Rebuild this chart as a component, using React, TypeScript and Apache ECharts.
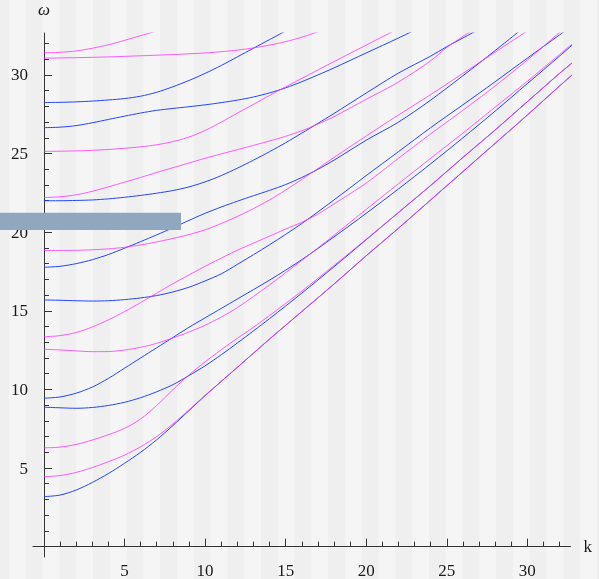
import React, { useEffect, useRef } from "react";
import * as echarts from "echarts";

type Pt = [number, number];

// axis extents (k horizontal, omega vertical)
const kMin = -0.68;
const kMax = 32.68;
const wMin = -0.66;
const wMax = 32.67;

const majorTicks = [5, 10, 15, 20, 25, 30];
const minorTicks = [1, 2, 3, 4, 6, 7, 8, 9, 11, 12, 13, 14, 16, 17, 18, 19, 21, 22, 23, 24, 26, 27, 28, 29, 31, 32];

// blue branches
const blue1: Pt[] = [[0, 3.18], [1, 3.28], [2, 3.6], [3, 4.08], [4, 4.65], [5, 5.3], [6, 6.0], [7, 6.8], [8, 7.7], [9, 8.65], [10, 9.6], [12, 11.4], [14, 13.2], [16, 14.95], [18, 16.7], [20, 18.5], [22, 20.25], [24, 22.05], [26, 23.85], [28, 25.65], [30, 27.45], [32, 29.3], [33, 30.2]];
const blue2: Pt[] = [[0, 8.87], [1, 8.83], [2, 8.8], [3, 8.85], [4, 8.98], [5, 9.18], [6, 9.47], [7, 9.85], [8, 10.3], [9, 10.88], [10, 11.5], [11, 12.2], [12, 12.95], [13, 13.72], [14, 14.5], [16, 16.12], [18, 17.8], [20, 19.52], [22, 21.25], [24, 22.97], [26, 24.75], [28, 26.5], [30, 28.3], [32, 30.1], [33, 30.95]];
const blue3: Pt[] = [[0, 9.44], [1, 9.52], [2, 9.76], [3, 10.15], [4, 10.7], [5, 11.35], [6, 12.0], [7, 12.65], [8, 13.3], [9, 13.95], [10, 14.55], [11, 15.15], [12, 15.75], [14, 16.95], [16, 18.25], [18, 19.7], [20, 21.2], [22, 22.75], [24, 24.35], [26, 26.0], [28, 27.7], [30, 29.45], [32, 31.2], [33, 32.1]];
const blue4: Pt[] = [[0, 15.69], [1, 15.67], [2, 15.64], [3, 15.62], [4, 15.64], [5, 15.71], [6, 15.82], [7, 15.97], [8, 16.2], [9, 16.5], [10, 16.9], [11, 17.35], [12, 17.95], [14, 19.2], [16, 20.55], [18, 22.05], [20, 23.6], [22, 25.12], [24, 26.65], [26, 28.1], [28, 29.57], [30, 31.07], [32, 32.55], [33, 33.3]];
const blue5: Pt[] = [[0, 17.77], [1, 17.83], [2, 18.0], [3, 18.25], [4, 18.58], [5, 18.98], [6, 19.4], [7, 19.83], [8, 20.28], [9, 20.75], [10, 21.2], [11, 21.6], [12, 21.97], [13, 22.32], [14, 22.66], [15, 23.03], [16, 23.48], [17, 24.0], [18, 24.58], [20, 25.85], [22, 27.0], [24, 28.4], [26, 29.95], [28, 31.55], [30, 33.2]];
const blue6: Pt[] = [[0, 22.0], [1, 22.0], [2, 22.02], [3, 22.05], [4, 22.12], [5, 22.22], [6, 22.34], [7, 22.48], [8, 22.65], [9, 22.88], [10, 23.2], [11, 23.6], [12, 24.07], [13, 24.58], [14, 25.12], [15, 25.69], [16, 26.3], [17, 26.92], [18, 27.55], [20, 28.85], [22, 30.12], [24, 31.2], [25, 31.8], [26, 32.35], [27, 32.9]];
const blue7: Pt[] = [[0, 26.65], [1, 26.68], [2, 26.78], [3, 26.96], [4, 27.17], [5, 27.38], [6, 27.58], [7, 27.75], [8, 27.87], [9, 27.98], [10, 28.1], [11, 28.24], [12, 28.4], [13, 28.6], [14, 28.86], [15, 29.18], [16, 29.57], [17, 30.0], [18, 30.45], [20, 31.4], [22, 32.35], [23, 32.85]];
const blue8: Pt[] = [[0, 28.25], [1, 28.26], [2, 28.29], [3, 28.34], [4, 28.41], [5, 28.5], [6, 28.65], [7, 28.9], [8, 29.25], [9, 29.65], [10, 30.1], [11, 30.6], [12, 31.15], [13, 31.7], [14, 32.25], [15, 32.8]];

// magenta branches
const magenta1: Pt[] = [[0, 4.45], [1, 4.52], [2, 4.72], [3, 5.03], [4, 5.4], [5, 5.82], [6, 6.35], [7, 7.0], [8, 7.8], [9, 8.7], [10, 9.62], [12, 11.4], [14, 13.2], [16, 14.95], [18, 16.7], [20, 18.5], [22, 20.25], [24, 22.05], [26, 23.85], [28, 25.65], [30, 27.45], [32, 29.3], [33, 30.2]];
const magenta2: Pt[] = [[0, 6.28], [1, 6.33], [2, 6.5], [3, 6.78], [4, 7.12], [5, 7.52], [6, 8.12], [7, 8.98], [8, 9.98], [9, 10.92], [10, 11.75], [11, 12.52], [12, 13.25], [13, 13.95], [14, 14.7], [16, 16.25], [18, 17.88], [20, 19.55], [22, 21.25], [24, 22.97], [26, 24.75], [28, 26.5], [30, 28.3], [32, 30.1], [33, 30.95]];
const magenta3: Pt[] = [[0, 12.55], [1, 12.51], [2, 12.45], [3, 12.4], [4, 12.41], [5, 12.5], [6, 12.68], [7, 12.93], [8, 13.27], [9, 13.65], [10, 14.08], [11, 14.6], [12, 15.2], [14, 16.65], [16, 18.2], [18, 19.8], [20, 21.45], [22, 23.08], [24, 24.7], [26, 26.3], [28, 27.95], [30, 29.6], [32, 31.3], [33, 32.15]];
const magenta4: Pt[] = [[0, 13.35], [1, 13.42], [2, 13.62], [3, 13.97], [4, 14.42], [5, 14.95], [6, 15.52], [7, 16.12], [8, 16.72], [9, 17.28], [10, 17.83], [11, 18.35], [12, 18.85], [13, 19.3], [14, 19.75], [15, 20.2], [16, 20.63], [17, 21.15], [18, 21.8], [20, 23.12], [22, 24.7], [24, 26.25], [26, 27.75], [28, 29.3], [30, 30.95], [32, 32.7], [33, 33.55]];
const magenta5: Pt[] = [[0, 18.84], [1, 18.84], [2, 18.85], [3, 18.88], [4, 18.94], [5, 19.04], [6, 19.19], [7, 19.38], [8, 19.6], [9, 19.85], [10, 20.15], [11, 20.55], [12, 21.0], [13, 21.5], [14, 22.05], [15, 22.68], [16, 23.35], [17, 24.05], [18, 24.75], [20, 26.12], [22, 27.45], [24, 28.75], [26, 30.1], [28, 31.45], [30, 32.8]];
const magenta6: Pt[] = [[0, 22.21], [1, 22.25], [2, 22.38], [3, 22.6], [4, 22.88], [5, 23.18], [6, 23.48], [7, 23.8], [8, 24.1], [9, 24.4], [10, 24.7], [11, 24.98], [12, 25.25], [13, 25.52], [14, 25.8], [15, 26.1], [16, 26.45], [17, 26.88], [18, 27.35], [20, 28.45], [22, 29.55], [24, 30.9], [25, 31.75], [26, 32.45], [27, 33.1]];
const magenta7: Pt[] = [[0, 25.14], [2, 25.17], [4, 25.26], [6, 25.43], [7, 25.56], [8, 25.76], [9, 26.05], [10, 26.47], [11, 27.0], [12, 27.57], [13, 28.13], [14, 28.7], [16, 29.78], [18, 30.85], [20, 31.9], [22, 32.95]];
const magenta8: Pt[] = [[0, 31.07], [2, 31.1], [4, 31.15], [6, 31.22], [8, 31.3], [10, 31.4], [11, 31.48], [12, 31.58], [13, 31.72], [14, 31.9], [15, 32.12], [16, 32.4], [17, 32.75]];
const magenta9: Pt[] = [[0, 31.41], [1, 31.44], [2, 31.53], [3, 31.7], [4, 31.92], [5, 32.2], [6, 32.5], [7, 32.8]];

const blueCurves = [blue1, blue2, blue3, blue4, blue5, blue6, blue7, blue8];
const magentaCurves = [magenta1, magenta2, magenta3, magenta4, magenta5, magenta6, magenta7, magenta8, magenta9];

const FONT = "Liberation Serif";
const AXIS = "#333333";
const TEXT = "#1a1a1a";
const BLUE = "#2244ff";
const MAGENTA = "#ff33ff";

export default function App() {
  const ref = useRef<HTMLDivElement>(null);

  useEffect(() => {
    if (!ref.current) return;
    const chart = echarts.init(ref.current, undefined, { renderer: "svg" });

    const lineSeries = (data: Pt[], color: string, opacity: number, z: number, name: string) => ({
      type: "line",
      name,
      data,
      xAxisIndex: 0,
      yAxisIndex: 0,
      showSymbol: false,
      symbol: "none",
      smooth: 0.3,
      clip: true,
      silent: true,
      z,
      lineStyle: { color, width: 1, opacity },
    });

    const tickStyle = { color: AXIS, width: 1 };

    const option: any = {
      animation: false,
      grid: { left: 33, right: 28.5, top: 33, bottom: 9, containLabel: false },
      xAxis: [
        {
          type: "value",
          position: "bottom",
          min: kMin,
          max: kMax,
          name: "k",
          nameLocation: "end",
          nameGap: 13,
          nameTextStyle: { fontFamily: FONT, fontSize: 17, color: TEXT },
          axisLine: { show: true, onZero: true, onZeroAxisIndex: 0, lineStyle: { color: AXIS, width: 1 } },
          axisTick: { show: true, inside: true, length: 8, customValues: majorTicks, lineStyle: tickStyle },
          axisLabel: { customValues: majorTicks, margin: 5, fontFamily: FONT, fontSize: 17, color: TEXT },
          splitLine: { show: false },
        },
        {
          type: "value",
          position: "bottom",
          min: kMin,
          max: kMax,
          axisLine: { show: false, onZero: true, onZeroAxisIndex: 0 },
          axisTick: { show: true, inside: true, length: 5, customValues: minorTicks, lineStyle: tickStyle },
          axisLabel: { show: false },
          splitLine: { show: false },
        },
      ],
      yAxis: [
        {
          type: "value",
          position: "left",
          min: wMin,
          max: wMax,
          name: "ω",
          nameLocation: "end",
          nameGap: 15,
          nameTextStyle: { fontFamily: FONT, fontSize: 17, fontStyle: "italic", color: TEXT },
          axisLine: { show: true, onZero: true, onZeroAxisIndex: 0, lineStyle: { color: AXIS, width: 1 } },
          axisTick: { show: true, inside: true, length: 8, customValues: majorTicks, lineStyle: tickStyle },
          axisLabel: { customValues: majorTicks, margin: 5, fontFamily: FONT, fontSize: 17, color: TEXT },
          splitLine: { show: false },
        },
        {
          type: "value",
          position: "left",
          min: wMin,
          max: wMax,
          axisLine: { show: false, onZero: true, onZeroAxisIndex: 0 },
          axisTick: { show: true, inside: true, length: 5, customValues: minorTicks, lineStyle: tickStyle },
          axisLabel: { show: false },
          splitLine: { show: false },
        },
      ],
      graphic: [
        {
          type: "rect",
          z: 100,
          silent: true,
          shape: { x: 0, y: 212.7, width: 181, height: 17.3 },
          style: { fill: "#8fa8c0" },
        },
      ],
      series: [
        ...blueCurves.map((d, i) => lineSeries(d, BLUE, 1, 2, `blue${i + 1}`)),
        ...magentaCurves.map((d, i) => lineSeries(d, MAGENTA, 0.8, 3, `magenta${i + 1}`)),
      ],
    };

    chart.setOption(option);
    return () => chart.dispose();
  }, []);

  return (
    <div
      style={{
        position: "fixed",
        left: 0,
        top: 0,
        width: 599,
        height: 579,
        backgroundImage: "linear-gradient(90deg, #f5f5f5 0, #f5f5f5 50%, #efefef 50%, #efefef 100%)",
        backgroundSize: "33.6px 100%",
        backgroundPosition: "9px 0",
        backgroundRepeat: "repeat-x",
      }}
    >
      <div ref={ref} style={{ width: 599, height: 579 }} />
    </div>
  );
}
